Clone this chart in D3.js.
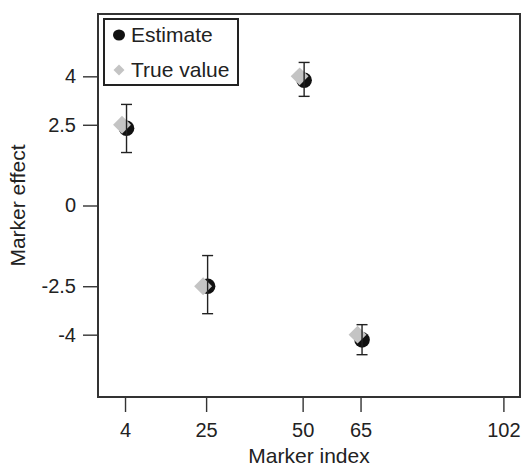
<!DOCTYPE html>
<html>
<head>
<meta charset="utf-8">
<script src="https://cdn.jsdelivr.net/npm/d3@7"></script>
<style>
  body { margin: 0; background: #fff; }
  svg text { font-family: "Liberation Sans", Arial, sans-serif; fill: #222; }
</style>
</head>
<body>
<div class="chart"></div>
<script>
"use strict";

// marker positions and estimates
var markers = [4, 25, 50, 65];
var estimates = [2.39, -2.5, 3.88, -4.16];
var lower = [1.64, -3.35, 3.38, -4.62];
var upper = [3.13, -1.55, 4.43, -3.69];
var trueValues = [2.5, -2.5, 4, -4];

var xTicks = [4, 25, 50, 65, 102];
var yTicks = [4, 2.5, 0, -2.5, -4];
var legendLabels = ["Estimate", "True value"];

var width = 523,
    height = 472;

var box = {left: 98, right: 520, top: 14, bottom: 397};

var svg = d3.select(".chart")
    .append("svg")
    .attr("width", width)
    .attr("height", height);

var x = d3.scaleLinear()
    .domain([-3, 106.3])
    .range([box.left, box.right]);

var y = d3.scaleLinear()
    .domain([-5.93, 5.93])
    .range([box.bottom, box.top]);

// axes
var xAxis = svg.append("g")
    .attr("transform", "translate(0," + box.bottom + ")")
    .call(d3.axisBottom(x).tickValues(xTicks).tickSize(15).tickPadding(11)
        .tickFormat(function(d){ return d; }));

var yAxis = svg.append("g")
    .attr("transform", "translate(" + box.left + ",0)")
    .call(d3.axisLeft(y).tickValues(yTicks).tickSize(15).tickPadding(7)
        .tickFormat(function(d){ return d; }));

[xAxis, yAxis].forEach(function(a){
  a.select(".domain").remove();
  a.selectAll(".tick line").attr("stroke", "#333").attr("stroke-width", 1.4);
  a.selectAll(".tick text").style("font-size", "20px").attr("fill", "#222");
});

svg.append("rect")
    .attr("x", box.left)
    .attr("y", box.top)
    .attr("width", box.right - box.left)
    .attr("height", box.bottom - box.top)
    .attr("fill", "none")
    .attr("stroke", "#333")
    .attr("stroke-width", 2);

// axis titles
svg.append("text")
    .attr("x", (box.left + box.right) / 2)
    .attr("y", 463)
    .style("text-anchor", "middle")
    .style("font-size", "21px")
    .text("Marker index");

svg.append("text")
    .attr("transform", "translate(25," + ((box.top + box.bottom) / 2) + ") rotate(-90)")
    .style("text-anchor", "middle")
    .style("font-size", "21px")
    .text("Marker effect");

var dodgeEst = 1.5,
    dodgeTrue = -3;

var diamond = d3.symbol().type(d3.symbolSquare);

var points = svg.append("g")
    .selectAll("g")
    .data(markers)
    .enter().append("g");

points.append("circle")
    .attr("cx", function(d){ return x(d) + dodgeEst; })
    .attr("cy", function(d, i){ return y(estimates[i]); })
    .attr("r", 7.8)
    .attr("fill", "#111");

points.append("path")
    .attr("d", diamond.size(160)())
    .attr("transform", function(d, i){
      return "translate(" + (x(d) + dodgeTrue) + "," + y(trueValues[i]) + ") rotate(45)";
    })
    .attr("fill", "#c4c4c4");

// error bars
points.append("line")
    .attr("x1", function(d){ return x(d) + dodgeEst; })
    .attr("x2", function(d){ return x(d) + dodgeEst; })
    .attr("y1", function(d, i){ return y(lower[i]); })
    .attr("y2", function(d, i){ return y(upper[i]); })
    .attr("stroke", "#222")
    .attr("stroke-width", 1.4);

[lower, upper].forEach(function(arr){
  points.append("line")
      .attr("x1", function(d){ return x(d) + dodgeEst - 5.5; })
      .attr("x2", function(d){ return x(d) + dodgeEst + 5.5; })
      .attr("y1", function(d, i){ return y(arr[i]); })
      .attr("y2", function(d, i){ return y(arr[i]); })
      .attr("stroke", "#222")
      .attr("stroke-width", 1.4);
});

// legend
var legend = svg.append("g");

legend.append("rect")
    .attr("x", 104)
    .attr("y", 19)
    .attr("width", 134)
    .attr("height", 66)
    .attr("fill", "#fff")
    .attr("stroke", "#222")
    .attr("stroke-width", 2);

legend.append("ellipse")
    .attr("cx", 119)
    .attr("cy", 35)
    .attr("rx", 6)
    .attr("ry", 5.5)
    .attr("fill", "#111");

legend.append("path")
    .attr("d", diamond.size(60)())
    .attr("transform", "translate(119,70) rotate(45)")
    .attr("fill", "#c4c4c4");

legend.selectAll("text")
    .data(legendLabels)
    .enter().append("text")
    .attr("x", 131)
    .attr("y", function(d, i){ return 42 + i * 35; })
    .style("font-size", "21px")
    .text(function(d){ return d; });
</script>
</body>
</html>
